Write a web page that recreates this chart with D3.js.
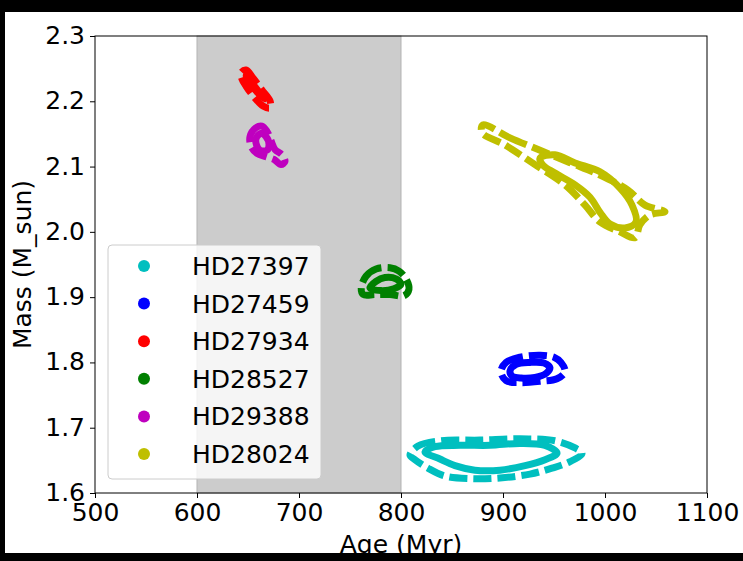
<!DOCTYPE html>
<html><head><meta charset="utf-8">
<script src="https://cdn.jsdelivr.net/npm/d3@7"></script>
<style>html,body{margin:0;padding:0;background:#000;}svg{display:block;}</style>
</head><body>
<script>
// ---- data (age in Myr, mass in M_sun) ----
const stars = ["HD27397","HD27459","HD27934","HD28527","HD29388","HD28024"];
const colors = ["#00bfbf","#0000ff","#ff0000","#008000","#bf00bf","#bfbf00"];
const xTicks = [500,600,700,800,900,1000,1100];
const yTicks = [1.6,1.7,1.8,1.9,2.0,2.1,2.2,2.3];
const band = [600,800];

// outer (dashed) contours
const outer_HD27397 = [[808.8,1.658],[816.7,1.672],[838.2,1.680],[877.5,1.681],[916.7,1.683],[951,1.680],[970.6,1.669],[977.5,1.661],[965.7,1.648],[948,1.638],[926.5,1.629],[897,1.623],[867.6,1.622],[843.1,1.626],[826.5,1.638],[813.7,1.651]];
const outer_HD27459 = [[898,1.786],[903,1.800],[916.7,1.808],[936.3,1.811],[950,1.808],[956.8,1.800],[960.8,1.786],[952.9,1.775],[936.3,1.771],[916.7,1.769],[903,1.772]];
const outer_HD27934 = [[643.1,2.2433],[648,2.2479],[654.9,2.2357],[663.7,2.2173],[671.6,2.2005],[671.6,2.1897],[664.7,2.1928],[655.9,2.2066],[648,2.2234],[644.1,2.2342]];
const outer_HD28527 = [[761,1.914],[765.7,1.932],[775.5,1.943],[789.2,1.945],[798,1.940],[804.9,1.928],[807.8,1.912],[802.9,1.902],[789.2,1.904],[774.5,1.904],[763,1.904]];
const outer_HD29388 = [[652,2.146],[657.4,2.159],[663.7,2.162],[668.6,2.154],[672.5,2.140],[676.5,2.126],[683.3,2.118],[686.2,2.108],[682.3,2.103],[675.5,2.111],[667.6,2.115],[658.8,2.120],[653,2.131]];
const outer_HD28024 = [[880.4,2.164],[906.9,2.144],[936.3,2.125],[965.7,2.106],[995.1,2.087],[1022.5,2.064],[1039.2,2.041],[1058.8,2.031],[1044.1,2.026],[1034.3,2.011],[1029.4,1.991],[1014.7,2.000],[995.1,2.015],[980.4,2.041],[960.8,2.072],[931.4,2.103],[902,2.133],[879.4,2.152]];

// inner (solid) contours
const inner_HD27397 = [[823.5,1.663],[833.3,1.671],[857.8,1.673],[887.3,1.673],[916.7,1.676],[941.2,1.673],[953,1.661],[941.2,1.651],[921.6,1.642],[897,1.635],[872.5,1.635],[852.9,1.642],[838.2,1.652]];
const inner_HD27459 = [[906.9,1.787],[912.8,1.797],[926.5,1.800],[940.2,1.799],[946,1.792],[942.1,1.783],[931.4,1.777],[917.7,1.776],[908.9,1.779]];
const inner_HD27934 = [[648,2.2387],[656.9,2.2219],[665.7,2.2035],[658.8,2.2142],[651,2.2296]];
const inner_HD28527 = [[769.6,1.914],[775.5,1.924],[784.3,1.930],[795.1,1.928],[800,1.920],[793.1,1.913],[780.4,1.910]];
const inner_HD29388 = [[657.9,2.143],[662.8,2.151],[667.6,2.146],[670.6,2.134],[668.6,2.125],[661.8,2.125],[658.4,2.133]];
const inner_HD28024 = [[936.3,2.113],[951,2.118],[970.6,2.1055],[995.1,2.092],[1014.7,2.067],[1026.5,2.041],[1030.4,2.015],[1019.6,2.006],[1004.9,2.012],[995.1,2.030],[985.3,2.053],[970.6,2.072],[951,2.090],[939.2,2.102]];

const outers = [outer_HD27397,outer_HD27459,outer_HD27934,outer_HD28527,outer_HD29388,outer_HD28024];
const inners = [inner_HD27397,inner_HD27459,inner_HD27934,inner_HD28527,inner_HD29388,inner_HD28024];

// ---- layout ----
const W = 743, H = 561;
const L = 95, R = 707, T = 36, B = 493;
const FONT = "DejaVu Sans, sans-serif";
const FS = 25;

const svg = d3.select("body").append("svg").attr("width", W).attr("height", H);
svg.append("rect").attr("width", W).attr("height", H).attr("fill", "#fff");

const x = d3.scaleLinear().domain([500,1100]).range([L,R]);
const y = d3.scaleLinear().domain([1.6,2.3]).range([B,T]);

svg.append("defs").append("clipPath").attr("id","plotclip")
  .append("rect").attr("x",L).attr("y",T).attr("width",R-L).attr("height",B-T);

// band
svg.append("rect").attr("x", x(band[0])).attr("y", T).attr("width", x(band[1])-x(band[0])).attr("height", B-T)
  .attr("fill", "#cccccc").attr("stroke", "#b3b3b3").attr("stroke-width", 1);

// contours
const line = d3.line().x(d=>x(d[0])).y(d=>y(d[1])).curve(d3.curveCatmullRomClosed.alpha(0.5));
const g = svg.append("g").attr("clip-path","url(#plotclip)");
stars.forEach((s,i)=>{
  g.append("path").attr("d", line(outers[i])).attr("fill","none").attr("stroke",colors[i])
    .attr("stroke-width",7).attr("stroke-dasharray","18 6").attr("stroke-linejoin","round");
  g.append("path").attr("d", line(inners[i])).attr("fill","none").attr("stroke",colors[i])
    .attr("stroke-width",7).attr("stroke-linejoin","round");
});

// axes
const xAxis = d3.axisBottom(x).tickValues(xTicks).tickSize(5).tickPadding(5).tickFormat(d3.format("d"));
const yAxis = d3.axisLeft(y).tickValues(yTicks).tickSize(5).tickPadding(5).tickFormat(d3.format(".1f"));
const gx = svg.append("g").attr("transform",`translate(0,${B})`).call(xAxis);
const gy = svg.append("g").attr("transform",`translate(${L},0)`).call(yAxis);
[gx,gy].forEach(a=>{
  a.select(".domain").remove();
  a.selectAll("line").attr("stroke","#000").attr("stroke-width",1);
  a.selectAll("text").attr("font-family",FONT).attr("font-size",FS).attr("fill","#000");
});
gy.selectAll("text").attr("dy","0.3em");
// spines
svg.append("rect").attr("x",L).attr("y",T).attr("width",R-L).attr("height",B-T)
  .attr("fill","none").attr("stroke","#000").attr("stroke-width",1);

// axis labels
svg.append("text").attr("x",(L+R)/2).attr("y",553).attr("text-anchor","middle")
  .attr("font-family",FONT).attr("font-size",FS).text("Age (Myr)");
svg.append("text").attr("transform",`translate(31,${(T+B)/2}) rotate(-90)`).attr("text-anchor","middle")
  .attr("font-family",FONT).attr("font-size",FS).text("Mass (M_sun)");

// legend
const lg = svg.append("g");
lg.append("rect").attr("x",108).attr("y",245).attr("width",213).attr("height",234).attr("rx",4)
  .attr("fill","#fff").attr("fill-opacity",0.8).attr("stroke","#cccccc").attr("stroke-width",1);
stars.forEach((s,i)=>{
  const yy = 266 + i*37.6;
  lg.append("circle").attr("cx",144).attr("cy",yy).attr("r",6).attr("fill",colors[i]);
  lg.append("text").attr("x",192).attr("y",yy).attr("dy","0.36em")
    .attr("font-family",FONT).attr("font-size",FS).text(s);
});

// black frame
svg.append("rect").attr("x",0).attr("y",0).attr("width",W).attr("height",12).attr("fill","#000");
svg.append("rect").attr("x",0).attr("y",0).attr("width",5).attr("height",H).attr("fill","#000");
svg.append("rect").attr("x",0).attr("y",553).attr("width",W).attr("height",H-553).attr("fill","#000");
</script>
</body></html>
